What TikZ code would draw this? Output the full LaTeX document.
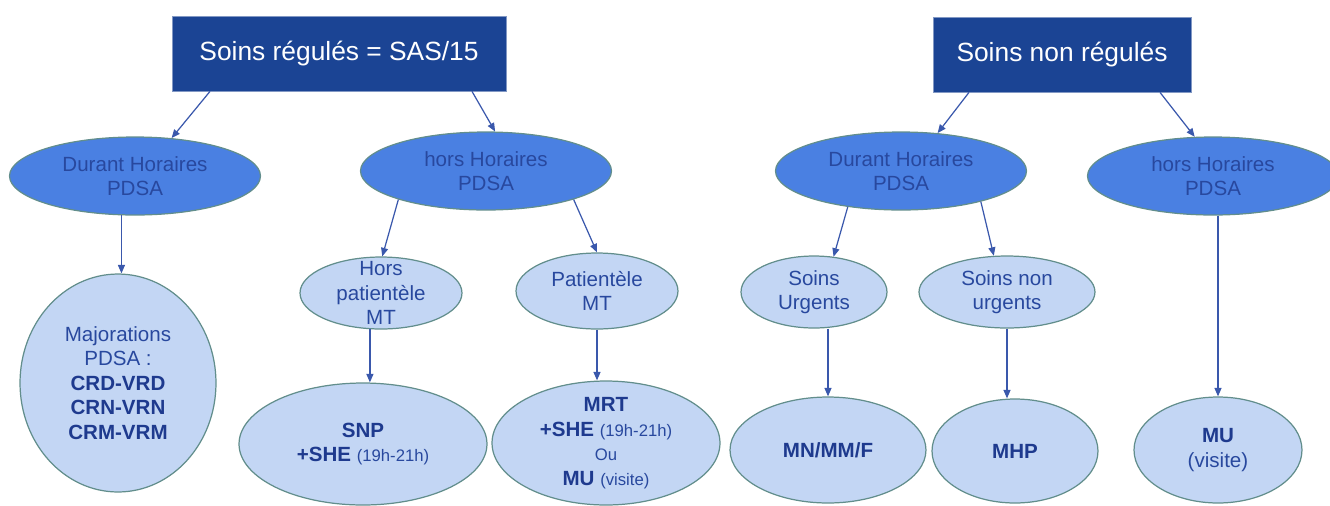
\documentclass[tikz,border=0pt]{standalone}
\usepackage{fontspec}
\setmainfont{Liberation Sans}
\usetikzlibrary{shapes.geometric,arrows.meta}
\definecolor{boxblue}{RGB}{27,68,148}
\definecolor{midblue}{RGB}{74,128,226}
\definecolor{lightblue}{RGB}{195,214,244}
\definecolor{rim}{RGB}{98,142,140}
\definecolor{textblue}{RGB}{40,72,158}
\definecolor{actblue}{RGB}{30,58,142}
\definecolor{arrowblue}{RGB}{58,88,172}
\newcommand\acte[1]{\textcolor{actblue}{\textbf{#1}}}
\newcommand\hrs[1]{{\fontsize{9.5}{14}\selectfont #1}}
\tikzset{
	titlebox/.style={draw=boxblue!55!white, fill=boxblue, text=white, minimum width=#1, minimum height=1.5cm, font=\fontsize{15}{18}\selectfont},
	midell/.style={ellipse, draw=rim, line width=0.7pt, fill=midblue, text=textblue, inner sep=0pt, minimum width=5.02cm, minimum height=1.56cm, align=center, font=\fontsize{11.7}{14}\selectfont},
	lowell/.style 2 args={ellipse, draw=rim, line width=0.7pt, fill=lightblue, text=textblue, inner sep=0pt, minimum width=#1, minimum height=#2, align=center, font=\fontsize{11.7}{14}\selectfont},
	conn/.style={draw=arrowblue, line width=0.7pt, -{Triangle[length=1.7mm,width=1.4mm]}}
}

\begin{document}
\begin{tikzpicture}[x=0.02cm, y=-0.02cm]
		%%%%% START %%%%%
		\useasboundingbox (0,0) rectangle (1330,505);
		
		\node[titlebox=6.68cm] (sas) at (339,53.5) {Soins régulés = SAS/15};
		\node[titlebox=5.16cm] (nonreg) at (1062,54.5) {Soins non régulés};
		
		\node[midell] (durL) at (135,176) {Durant Horaires\\PDSA};
		\node[midell] (horsL) at (486,171) {hors Horaires\\PDSA};
		\node[midell] (durR) at (901,171) {Durant Horaires\\PDSA};
		\node[midell] (horsR) at (1213,176) {hors Horaires\\PDSA};
		
		\node[lowell={3.24cm}{1.44cm}, inner ysep=-5pt] (horsMT) at (381,293) {Hors\\patientèle\\MT};
		\node[lowell={3.24cm}{1.52cm}] (patMT) at (597,291) {Patientèle\\MT};
		\node[lowell={2.92cm}{1.44cm}] (urg) at (814,292) {Soins\\Urgents};
		\node[lowell={3.52cm}{1.44cm}] (nonurg) at (1007,292) {Soins non\\urgents};
		
		\node[lowell={3.92cm}{4.36cm}] (major) at (118,383) {Majorations\\PDSA :\\\acte{CRD-VRD}\\\acte{CRN-VRN}\\\acte{CRM-VRM}};
		\node[lowell={4.96cm}{2.44cm}] (snp) at (363,444) {\acte{SNP}\\\acte{+SHE} \hrs{(19h-21h)}};
		\node[lowell={4.56cm}{2.48cm}, inner ysep=-3pt] (mrt) at (606,443) {\acte{MRT}\\\acte{+SHE} \hrs{(19h-21h)}\\\hrs{Ou}\\\acte{MU} \hrs{(visite)}};
		\node[lowell={3.92cm}{2.12cm}] (mnmmf) at (828,450) {\acte{MN/MM/F}};
		\node[lowell={3.32cm}{2.08cm}] (mhp) at (1015,451) {\acte{MHP}};
		\node[lowell={3.36cm}{2.12cm}] (mu) at (1218,450) {\acte{MU}\\(visite)};
		
		% regulated branch
		\draw[conn] ([xshift=-2.58cm]sas.south) -- (durL.46);
		\draw[conn] ([xshift=2.66cm]sas.south) -- (horsL.77);
		\draw[conn] (durL.251) -- (durL.251 |- major.north);
		\draw[conn] (horsL.198) -- (horsMT.88);
		\draw[conn] (horsL.342) -- (patMT.north);
		\draw[conn] (horsMT.253) -- (horsMT.253 |- snp.north);
		\draw[conn] (patMT.south) -- (patMT.south |- mrt.north);
		
		% non regulated branch
		\draw[conn] ([xshift=-1.86cm]nonreg.south) -- (durR.46);
		\draw[conn] ([xshift=1.96cm]nonreg.south) -- (horsR.115);
		\draw[conn] (durR.214) -- (urg.61);
		\draw[conn] (durR.339) -- (nonurg.110);
		\draw[conn] (mnmmf.north |- urg.south) -- (mnmmf.north);
		\draw[conn] (nonurg.south) -- (nonurg.south |- mhp.north);
		\draw[conn] (mu.north |- horsR.south) -- (mu.north);
		%%%%% END %%%%%
	\end{tikzpicture}
\end{document}
